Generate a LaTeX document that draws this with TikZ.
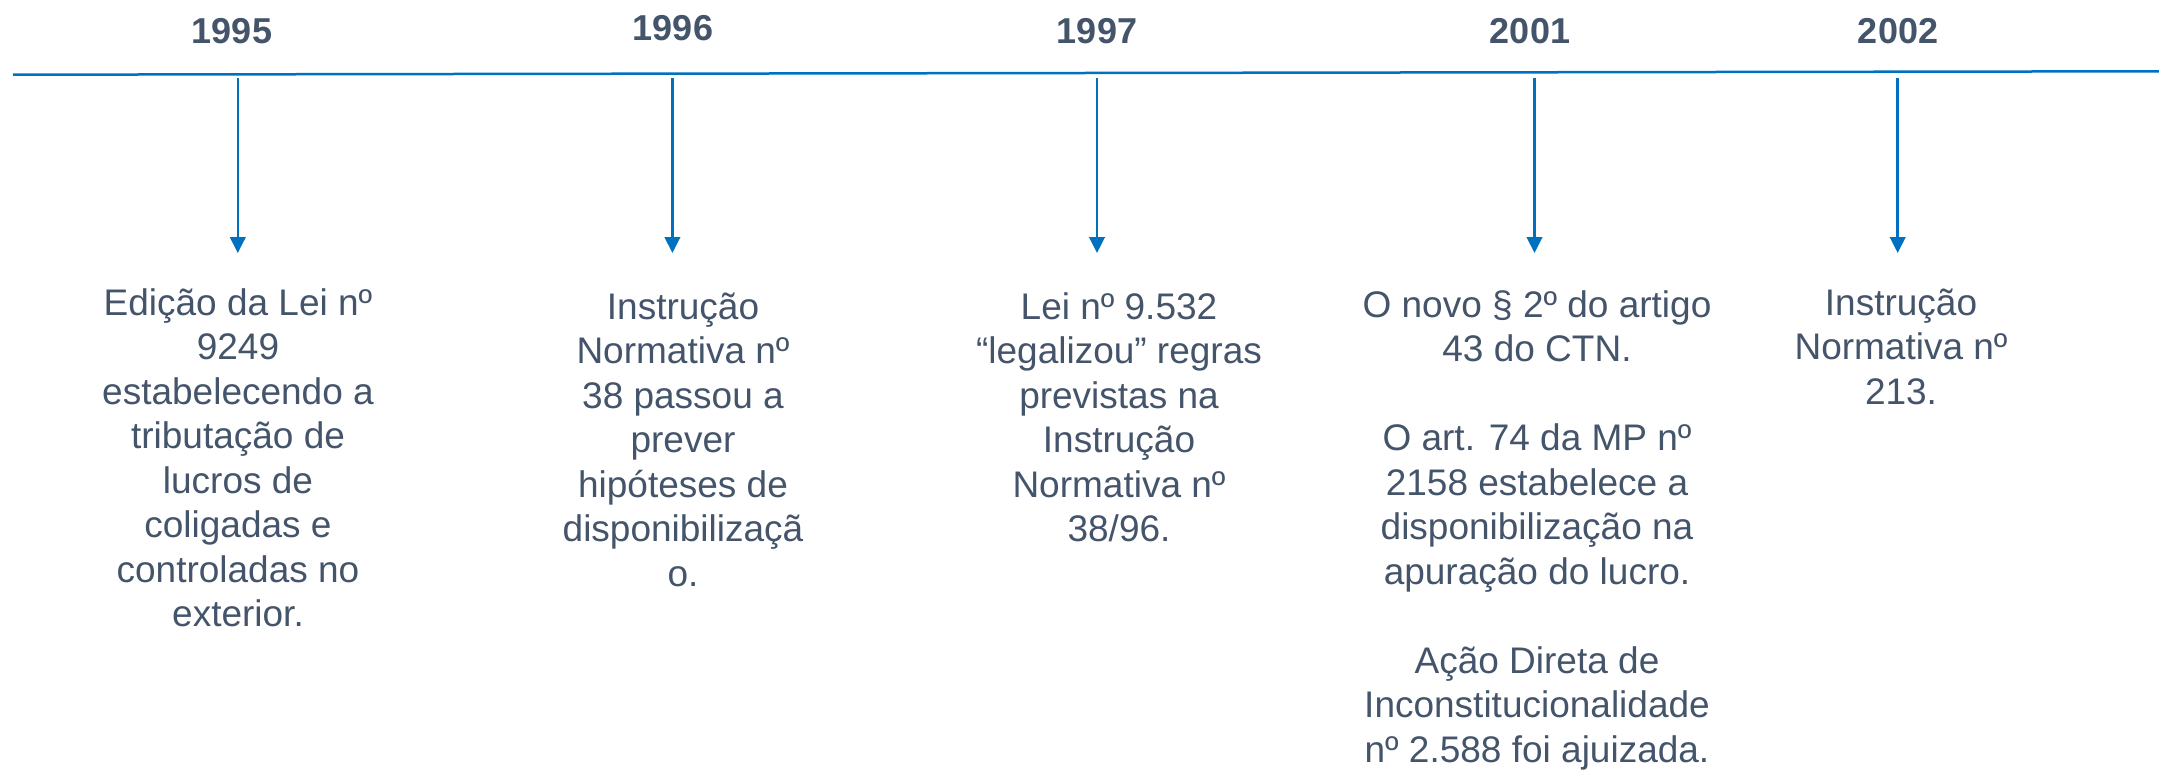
\documentclass[tikz,border=0pt]{standalone}
\usepackage{fontspec}
\setmainfont{Liberation Sans}
\usetikzlibrary{arrows.meta}
\definecolor{txtc}{HTML}{44546A}
\definecolor{bluec}{HTML}{0070C0}
\tikzset{
  yearlbl/.style={font=\fontsize{36}{43}\selectfont\bfseries, text=txtc, anchor=base, inner sep=0pt, outer sep=0pt},
  blocktxt/.style={font=\fontsize{37}{44.5}\selectfont, text=txtc, align=center, anchor=north, inner sep=0pt, outer sep=0pt},
  tline/.style={draw=bluec, line width=2.5pt},
  darrow/.style={draw=bluec, line width=2.6pt, -{Triangle[width=15.5pt,length=16pt]}}
}
\newcommand{\fst}{\rule{0pt}{36pt}}
\begin{document}
\begin{tikzpicture}[x=1pt,y=-1pt]
\useasboundingbox (0,0) rectangle (2159,770);
% timeline
\coordinate (L) at (13,74.7);
\coordinate (R) at (2159,71.3);
\draw[tline] (L) -- (R);
% years
\node[yearlbl] (y1) at (232,43.3) {1995};
\node[yearlbl] (y2) at (673,40.7) {1996};
\node[yearlbl] (y3) at (1097,43.3) {1997};
\node[yearlbl] (y4) at (1530,44) {2001};
\node[yearlbl] (y5) at (1898,44) {2002};
% arrows
\coordinate (s1) at (237.8,78);  \coordinate (e1) at (237.8,253);
\coordinate (s2) at (672.4,78);  \coordinate (e2) at (672.4,253);
\coordinate (s3) at (1097,78);   \coordinate (e3) at (1097,253);
\coordinate (s4) at (1534.5,78); \coordinate (e4) at (1534.5,253);
\coordinate (s5) at (1897.7,78); \coordinate (e5) at (1897.7,253);
\draw[darrow] (s1) -- (e1);
\draw[darrow] (s2) -- (e2);
\draw[darrow] (s3) -- (e3);
\draw[darrow] (s4) -- (e4);
\draw[darrow] (s5) -- (e5);
% text blocks
\node[blocktxt] (b1) at (238,279) {\fst Edição da Lei nº\\9249\\estabelecendo a\\tributação de\\lucros de\\coligadas e\\controladas no\\exterior.};
\node[blocktxt] (b2) at (683,283) {\fst Instrução\\Normativa nº\\38 passou a\\prever\\hipóteses de\\disponibilizaçã\\o.};
\node[blocktxt] (b3) at (1119,283) {\fst Lei nº 9.532\\“legalizou” regras\\previstas na\\Instrução\\Normativa nº\\38/96.};
\node[blocktxt] (b4) at (1537,281) {\fst O novo § 2º do artigo\\43 do CTN.\\[44.5pt]O art. 74 da MP nº\\2158 estabelece a\\disponibilização na\\apuração do lucro.\\[44.5pt]Ação Direta de\\Inconstitucionalidade\\nº 2.588 foi ajuizada.};
\node[blocktxt] (b5) at (1901,279) {\fst Instrução\\Normativa nº\\213.};
\end{tikzpicture}
\end{document}
